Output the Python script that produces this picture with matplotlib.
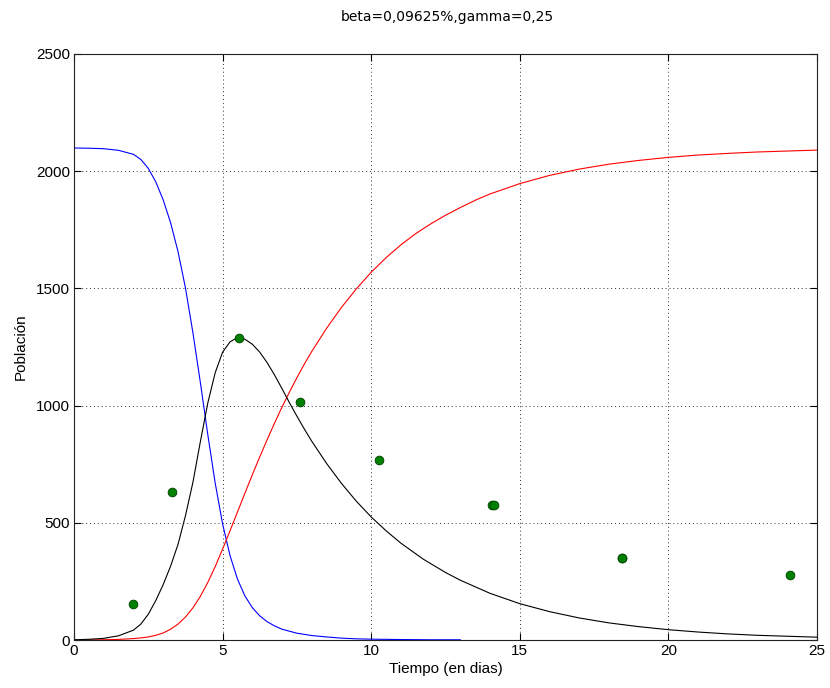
import matplotlib
matplotlib.use("Agg")
import matplotlib.pyplot as plt

# Susceptibles (blue)
t_s = [0, 0.5, 1.0, 1.5, 2.0, 2.25, 2.5, 2.75, 3.0, 3.25, 3.5, 3.75, 4.0, 4.25, 4.5,
       4.75, 5.0, 5.25, 5.5, 5.75, 6.0, 6.25, 6.5, 6.75, 7.0, 7.5, 8.0, 8.5, 9.0, 9.5,
       10.0, 11.0, 12.0, 13.0]
s_vals = [2099, 2098, 2096, 2089, 2072, 2050, 2012, 1955, 1878, 1780, 1657, 1502, 1312,
          1100, 878, 670, 495, 360, 260, 188, 138, 103, 78, 60, 46, 29, 19, 13, 8, 5,
          3.5, 2, 1, 1]

# Infectados (black)
t_i = [0, 0.5, 1.0, 1.5, 2.0, 2.25, 2.5, 2.75, 3.0, 3.25, 3.5, 3.75, 4.0, 4.25, 4.5,
       4.75, 5.0, 5.25, 5.5, 5.75, 6.0, 6.25, 6.5, 6.75, 7.0, 7.25, 7.5, 7.75, 8.0,
       8.5, 9.0, 9.5, 10.0, 10.5, 11.0, 11.75, 12.5, 13.0, 14.0, 15.0, 16.0, 17.0,
       18.0, 19.0, 20.0, 21.0, 22.0, 23.0, 24.0, 25.0]
i_vals = [1, 3, 7, 18, 42, 68, 110, 168, 236, 315, 408, 530, 672, 845, 1010, 1140, 1228,
          1272, 1290, 1283, 1262, 1228, 1183, 1130, 1072, 1012, 955, 900, 848, 753, 668,
          592, 525, 466, 413, 345, 288, 255, 199, 155, 121, 94, 73, 57, 44, 34, 26, 20,
          16, 12]

# Recuperados (red)
t_r = [0, 0.5, 1.0, 1.5, 2.0, 2.25, 2.5, 2.75, 3.0, 3.25, 3.5, 3.75, 4.0, 4.25, 4.5,
       4.75, 5.0, 5.25, 5.5, 5.75, 6.0, 6.25, 6.5, 6.75, 7.0, 7.25, 7.5, 7.75, 8.0,
       8.5, 9.0, 9.5, 10.0, 10.5, 11.0, 11.5, 12.0, 12.5, 13.0, 13.5, 14.0, 15.0,
       16.0, 17.0, 18.0, 19.0, 20.0, 21.0, 22.0, 23.0, 24.0, 25.0]
r_vals = [0, 0.4, 1, 2.5, 6, 9, 13, 20, 30, 46, 68, 98, 137, 186, 245, 313, 388, 466,
          546, 626, 705, 781, 855, 926, 994, 1058, 1119, 1177, 1231, 1330, 1419, 1498,
          1569, 1631, 1686, 1734, 1775, 1812, 1845, 1876, 1903, 1947, 1982, 2009, 2030,
          2046, 2059, 2069, 2076, 2082, 2086, 2090]

# Datos observados (green dots)
t_obs = [2.0, 3.3, 5.55, 7.6, 10.25, 14.05, 14.12, 18.45, 18.45, 24.1]
y_obs = [155, 633, 1290, 1015, 770, 577, 577, 348, 351, 277]

x_ticks = [0, 5, 10, 15, 20, 25]
y_ticks = [0, 500, 1000, 1500, 2000, 2500]

plt.rcParams['font.family'] = ['Liberation Sans', 'DejaVu Sans']

fig = plt.figure(figsize=(8.3, 6.88), dpi=100)
ax = fig.add_axes([74/830, 48/688, (817-74)/830, (640-54)/688])

ax.plot(t_s, s_vals, color=(0, 0, 1), lw=0.8)
ax.plot(t_r, r_vals, color=(1, 0, 0), lw=0.8)
ax.plot(t_i, i_vals, color=(0, 0, 0), lw=0.8)
ax.plot(t_obs, y_obs, 'o', color=(0, 0.5, 0), markeredgecolor=(0, 0.25, 0),
        markeredgewidth=0.6, markersize=6.3, linestyle='none')

ax.set_xlim(0, 25)
ax.set_ylim(0, 2500)
ax.set_xticks(x_ticks)
ax.set_yticks(y_ticks)
ax.set_xticklabels([str(v) for v in x_ticks])
ax.set_yticklabels([str(v) for v in y_ticks])
ax.tick_params(direction='in', length=5, width=0.8, top=True, right=True,
               labelsize=11, colors='black', pad=3)
ax.grid(True, linestyle=(0, (1, 3)), color='#303030', linewidth=0.7)
for sp in ax.spines.values():
    sp.set_linewidth(0.8)
    sp.set_color('#222222')

ax.set_xlabel('Tiempo (en dias)', fontsize=11, labelpad=3)
ax.set_ylabel('Población', fontsize=11, labelpad=6)
fig.text(447/830, 1 - 17/688, 'beta=0,09625%,gamma=0,25', ha='center', va='center',
         fontsize=10, family=['DejaVu Sans'])

fig.savefig('out.png', dpi=100, facecolor='white')
